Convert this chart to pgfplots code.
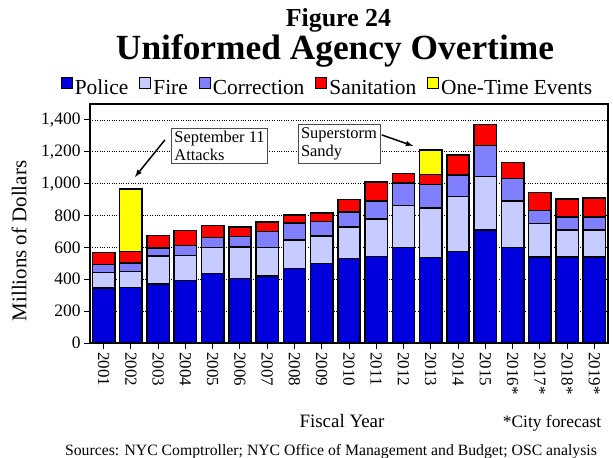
\documentclass[border=0pt]{standalone}
\usepackage{fontspec}
\setmainfont{Liberation Serif}
\usepackage{pgfplots}
\pgfplotsset{compat=1.18}
\definecolor{police}{RGB}{0,0,221}
\definecolor{fire}{RGB}{198,204,255}
\definecolor{corr}{RGB}{128,128,255}
\definecolor{sanit}{RGB}{255,0,0}
\definecolor{onetime}{RGB}{255,255,0}
\begin{document}
\begin{tikzpicture}
\begin{axis}[
 scale only axis, width=518bp, height=239bp,
 ybar stacked, bar width=0.82,
 xmin=-0.5, xmax=18.5, ymin=0, ymax=1500,
 ytick={0,200,...,1400},
 xtick={0,...,18},
 xticklabels={2001,2002,2003,2004,2005,2006,2007,2008,2009,2010,2011,2012,2013,2014,2015,2016*,2017*,2018*,2019*},
 x tick label style={rotate=-90, anchor=west, font=\fontsize{17}{17}\selectfont},
 y tick label style={font=\fontsize{17.5}{17.5}\selectfont},
 yticklabel style={/pgf/number format/.cd, 1000 sep={,}, assume math mode=true},
 ymajorgrids, grid style={black, dotted, line width=0.8pt},
 axis line style={black, line width=1.5pt},
 tick style={black, line width=1pt},
 major tick length=6bp, tick align=outside,
 xtick pos=bottom, ytick pos=left,
 every axis plot/.append style={draw=black, line width=1.5pt},
 legend style={at={(0.4585,1)}, anchor=south, yshift=5bp, draw=none, fill=none, legend columns=-1,
   /tikz/every even column/.append style={column sep=9bp},
   /tikz/every odd column/.append style={column sep=0bp},
   font=\fontsize{21.5}{21.5}\selectfont, inner sep=0.5pt},
 legend image code/.code={\draw[#1,line width=1pt] (0bp,0bp) rectangle (11bp,11bp);},
]
\addplot[fill=police] coordinates {(0,344)(1,348)(2,371)(3,392)(4,437)(5,404)(6,419)(7,469)(8,500)(9,529)(10,544)(11,600)(12,537)(13,575)(14,708)(15,600)(16,540)(17,540)(18,540)};
\addplot[fill=fire] coordinates {(0,100)(1,100)(2,175)(3,158)(4,163)(5,198)(6,179)(7,177)(8,171)(9,200)(10,233)(11,262)(12,309)(13,344)(14,336)(15,292)(16,210)(17,170)(18,170)};
\addplot[fill=corr] coordinates {(0,48)(1,54)(2,50)(3,62)(4,62)(5,65)(6,102)(7,108)(8,91)(9,92)(10,113)(11,142)(12,150)(13,135)(14,196)(15,139)(16,83)(17,82)(18,82)};
\addplot[fill=sanit] coordinates {(0,75)(1,71)(2,79)(3,94)(4,75)(5,62)(6,60)(7,48)(8,55)(9,79)(10,122)(11,61)(12,62)(13,127)(14,131)(15,102)(16,111)(17,112)(18,118)};
\addplot[fill=onetime] coordinates {(0,0)(1,392)(2,0)(3,0)(4,0)(5,0)(6,0)(7,0)(8,0)(9,0)(10,0)(11,0)(12,154)(13,0)(14,0)(15,0)(16,0)(17,0)(18,0)};
\legend{Police,Fire,Correction,Sanitation,One-Time Events}
\node[draw=black!70, fill=white, align=left, font=\fontsize{16.5}{18}\selectfont, inner sep=3bp] at (axis cs:4.25,1237) {September 11\\Attacks};
\node[draw=black!70, fill=white, align=left, font=\fontsize{16.5}{18}\selectfont, inner sep=3bp] at (axis cs:8.63,1250) {Superstorm\\Sandy};
\draw[-latex, line width=1.5pt] (axis cs:2.25,1275) -- (axis cs:1.15,1042);
\draw[-latex, line width=1.5pt] (axis cs:10.2,1306) -- (axis cs:11.35,1237);
\end{axis}
\node[rotate=90, font=\fontsize{21}{21}\selectfont] at (-71bp,102bp) {Millions of Dollars};
\node[anchor=base, inner sep=0pt, font=\bfseries\fontsize{26}{26}\selectfont] at (248.5bp,316bp) {Figure 24};
\node[anchor=base, inner sep=0pt, font=\bfseries\fontsize{35.5}{35.5}\selectfont] at (245bp,283bp) {Uniformed Agency Overtime};
\node[anchor=base, font=\fontsize{19}{19}\selectfont] at (252bp,-84bp) {Fiscal Year};
\node[anchor=base, font=\fontsize{17.5}{17.5}\selectfont] at (462bp,-84bp) {*City forecast};
\node[anchor=base, font=\fontsize{15.8}{15.8}\selectfont] at (241bp,-112bp) {Sources: NYC Comptroller; NYC Office of Management and Budget; OSC analysis};
\pgfresetboundingbox
\path[use as bounding box] (-90bp,-115bp) rectangle (523bp,343bp);
\end{tikzpicture}
\end{document}
